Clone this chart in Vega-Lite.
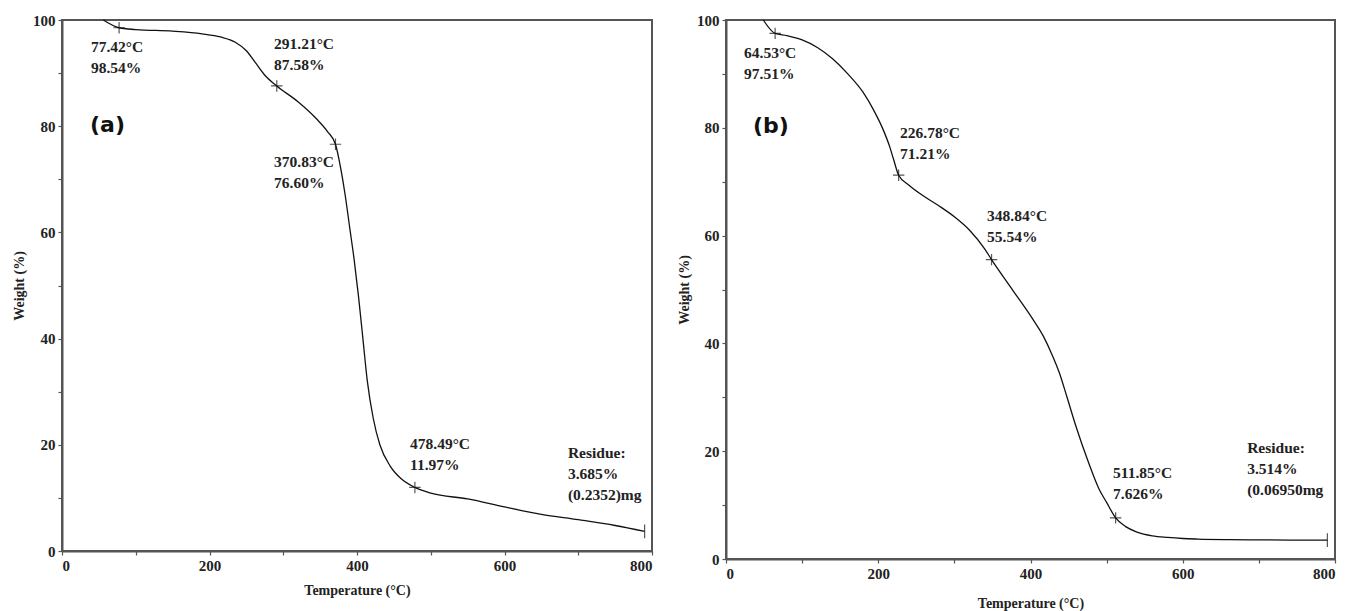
{
  "$schema": "https://vega.github.io/schema/vega-lite/v6.json",
  "padding": {"left": 11, "top": 12, "right": 0, "bottom": 0},
  "background": "white",
  "datasets": {
    "curveA": [
      {"T": 56, "W": 100}, {"T": 77.42, "W": 98.54}, {"T": 100, "W": 98.2}, {"T": 150, "W": 97.9},
      {"T": 190, "W": 97.4}, {"T": 215, "W": 96.8}, {"T": 235, "W": 95.8}, {"T": 250, "W": 94.2},
      {"T": 262, "W": 92}, {"T": 275, "W": 89.6}, {"T": 291.21, "W": 87.58}, {"T": 320, "W": 84.6},
      {"T": 345, "W": 81.4}, {"T": 360, "W": 79}, {"T": 370.83, "W": 76.6}, {"T": 378, "W": 72},
      {"T": 384, "W": 67}, {"T": 390, "W": 61}, {"T": 396, "W": 55}, {"T": 402, "W": 48},
      {"T": 408, "W": 40}, {"T": 414, "W": 32}, {"T": 422, "W": 25}, {"T": 431, "W": 20},
      {"T": 445, "W": 16}, {"T": 460, "W": 13.6}, {"T": 478.49, "W": 11.97}, {"T": 500, "W": 10.9},
      {"T": 550, "W": 9.8}, {"T": 600, "W": 8.3}, {"T": 650, "W": 6.9}, {"T": 700, "W": 5.9},
      {"T": 750, "W": 4.8}, {"T": 790, "W": 3.685}
    ],
    "curveB": [
      {"T": 49, "W": 100}, {"T": 64.53, "W": 97.51}, {"T": 80, "W": 97.1}, {"T": 100, "W": 96.3},
      {"T": 120, "W": 94.9}, {"T": 140, "W": 92.8}, {"T": 160, "W": 90}, {"T": 180, "W": 86.6},
      {"T": 195, "W": 83}, {"T": 206, "W": 79.8}, {"T": 215, "W": 76.5}, {"T": 220, "W": 74.2},
      {"T": 226.78, "W": 71.21}, {"T": 240, "W": 69.4}, {"T": 260, "W": 67.3}, {"T": 280, "W": 65.5},
      {"T": 300, "W": 63.5}, {"T": 320, "W": 61}, {"T": 340, "W": 57.5}, {"T": 348.84, "W": 55.54},
      {"T": 377, "W": 49.8}, {"T": 403, "W": 44.5}, {"T": 417, "W": 41.3}, {"T": 428, "W": 38},
      {"T": 438, "W": 34.5}, {"T": 448, "W": 30}, {"T": 460, "W": 24.5}, {"T": 476, "W": 18},
      {"T": 490, "W": 13}, {"T": 500, "W": 10.5}, {"T": 511.85, "W": 7.626}, {"T": 525, "W": 6},
      {"T": 540, "W": 5}, {"T": 560, "W": 4.3}, {"T": 580, "W": 4}, {"T": 600, "W": 3.8},
      {"T": 620, "W": 3.7}, {"T": 660, "W": 3.6}, {"T": 700, "W": 3.55}, {"T": 750, "W": 3.5},
      {"T": 790, "W": 3.514}
    ],
    "marksA": [
      {"T": 77.42, "W": 98.54, "kind": "plus"}, {"T": 291.21, "W": 87.58, "kind": "plus"},
      {"T": 370.83, "W": 76.6, "kind": "plus"}, {"T": 478.49, "W": 11.97, "kind": "plus"},
      {"T": 790, "W": 3.685, "kind": "end"}
    ],
    "marksB": [
      {"T": 64.53, "W": 97.51, "kind": "plus"}, {"T": 226.78, "W": 71.21, "kind": "plus"},
      {"T": 348.84, "W": 55.54, "kind": "plus"}, {"T": 511.85, "W": 7.626, "kind": "plus"},
      {"T": 790, "W": 3.514, "kind": "end"}
    ],
    "labelsA": [
      {"T": 39.3, "W": 96.2, "txt": "77.42°C\n98.54%"},
      {"T": 287.5, "W": 96.8, "txt": "291.21°C\n87.58%"},
      {"T": 287.5, "W": 74.6, "txt": "370.83°C\n76.60%"},
      {"T": 471.9, "W": 21.5, "txt": "478.49°C\n11.97%"},
      {"T": 686, "W": 19.8, "txt": "Residue:\n3.685%\n(0.2352)mg"}
    ],
    "labelsB": [
      {"T": 23.7, "W": 95.2, "txt": "64.53°C\n97.51%"},
      {"T": 228.6, "W": 80.4, "txt": "226.78°C\n71.21%"},
      {"T": 343, "W": 65, "txt": "348.84°C\n55.54%"},
      {"T": 508.5, "W": 17.2, "txt": "511.85°C\n7.626%"},
      {"T": 684.6, "W": 21.9, "txt": "Residue:\n3.514%\n(0.06950mg"}
    ],
    "tagA": [{"T": 38, "W": 80.2, "txt": "(a)"}],
    "tagB": [{"T": 35.5, "W": 80.4, "txt": "(b)"}]
  },
  "hconcat": [
    {
      "width": 590,
      "height": 531,
      "layer": [
        {
          "data": {"name": "curveA"},
          "mark": {"type": "line", "color": "#111", "strokeWidth": 1.3, "interpolate": "monotone"},
          "encoding": {
            "x": {"field": "T", "type": "quantitative", "scale": {"domain": [0, 800], "nice": false},
              "axis": {"title": "Temperature (°C)", "values": [0,50,100,150,200,250,300,350,400,450,500,550,600,650,700,750,800],
                "labelExpr": "datum.value % 200 === 0 ? datum.label : ''", "titlePadding": 10}},
            "y": {"field": "W", "type": "quantitative", "scale": {"domain": [0, 100], "nice": false},
              "axis": {"title": "Weight (%)", "values": [0,10,20,30,40,50,60,70,80,90,100],
                "labelExpr": "datum.value % 20 === 0 ? datum.label : ''", "titlePadding": 6}}
          }
        },
        {
          "data": {"name": "marksA"},
          "mark": {"type": "point", "filled": false, "color": "#111", "strokeWidth": 1.2, "size": 130},
          "encoding": {
            "x": {"field": "T", "type": "quantitative"},
            "y": {"field": "W", "type": "quantitative"},
            "shape": {"field": "kind", "type": "nominal", "legend": null,
              "scale": {"domain": ["plus", "end"], "range": ["M-1,0L1,0M0,-1L0,1", "M0,-1.2L0,1.2"]}}
          }
        },
        {
          "data": {"name": "labelsA"},
          "mark": {"type": "text", "align": "left", "baseline": "top", "lineBreak": "\n", "lineHeight": 21,
            "font": "Liberation Serif", "fontWeight": "bold", "fontSize": 15.5, "color": "#222"},
          "encoding": {
            "x": {"field": "T", "type": "quantitative"},
            "y": {"field": "W", "type": "quantitative"},
            "text": {"field": "txt"}
          }
        },
        {
          "data": {"name": "tagA"},
          "mark": {"type": "text", "align": "left", "baseline": "middle", "font": "DejaVu Sans", "fontWeight": "bold", "fontSize": 22, "color": "#111"},
          "encoding": {
            "x": {"field": "T", "type": "quantitative"},
            "y": {"field": "W", "type": "quantitative"},
            "text": {"field": "txt"}
          }
        }
      ]
    },
    {
      "width": 609,
      "height": 539,
      "layer": [
        {
          "data": {"name": "curveB"},
          "mark": {"type": "line", "color": "#111", "strokeWidth": 1.3, "interpolate": "monotone"},
          "encoding": {
            "x": {"field": "T", "type": "quantitative", "scale": {"domain": [0, 800], "nice": false},
              "axis": {"title": "Temperature (°C)", "values": [0,50,100,150,200,250,300,350,400,450,500,550,600,650,700,750,800],
                "labelExpr": "datum.value % 200 === 0 ? datum.label : ''", "titlePadding": 15}},
            "y": {"field": "W", "type": "quantitative", "scale": {"domain": [0, 100], "nice": false},
              "axis": {"title": "Weight (%)", "values": [0,10,20,30,40,50,60,70,80,90,100],
                "labelExpr": "datum.value % 20 === 0 ? datum.label : ''", "titlePadding": 5}}
          }
        },
        {
          "data": {"name": "marksB"},
          "mark": {"type": "point", "filled": false, "color": "#111", "strokeWidth": 1.2, "size": 130},
          "encoding": {
            "x": {"field": "T", "type": "quantitative"},
            "y": {"field": "W", "type": "quantitative"},
            "shape": {"field": "kind", "type": "nominal", "legend": null,
              "scale": {"domain": ["plus", "end"], "range": ["M-1,0L1,0M0,-1L0,1", "M0,-1.2L0,1.2"]}}
          }
        },
        {
          "data": {"name": "labelsB"},
          "mark": {"type": "text", "align": "left", "baseline": "top", "lineBreak": "\n", "lineHeight": 21,
            "font": "Liberation Serif", "fontWeight": "bold", "fontSize": 15.5, "color": "#222"},
          "encoding": {
            "x": {"field": "T", "type": "quantitative"},
            "y": {"field": "W", "type": "quantitative"},
            "text": {"field": "txt"}
          }
        },
        {
          "data": {"name": "tagB"},
          "mark": {"type": "text", "align": "left", "baseline": "middle", "font": "DejaVu Sans", "fontWeight": "bold", "fontSize": 22, "color": "#111"},
          "encoding": {
            "x": {"field": "T", "type": "quantitative"},
            "y": {"field": "W", "type": "quantitative"},
            "text": {"field": "txt"}
          }
        }
      ]
    }
  ],
  "spacing": 22,
  "config": {
    "font": "Liberation Serif",
    "view": {"stroke": "#555", "strokeWidth": 2},
    "axis": {
      "grid": false,
      "labelFont": "Liberation Serif", "labelFontWeight": "bold", "labelFontSize": 15, "labelColor": "#222",
      "titleFont": "Liberation Serif", "titleFontWeight": "bold", "titleFontSize": 14, "titleColor": "#222",
      "domainColor": "#555", "domainWidth": 2, "tickColor": "#555", "tickSize": 4, "tickWidth": 1.2,
      "labelPadding": 3
    }
  }
}
